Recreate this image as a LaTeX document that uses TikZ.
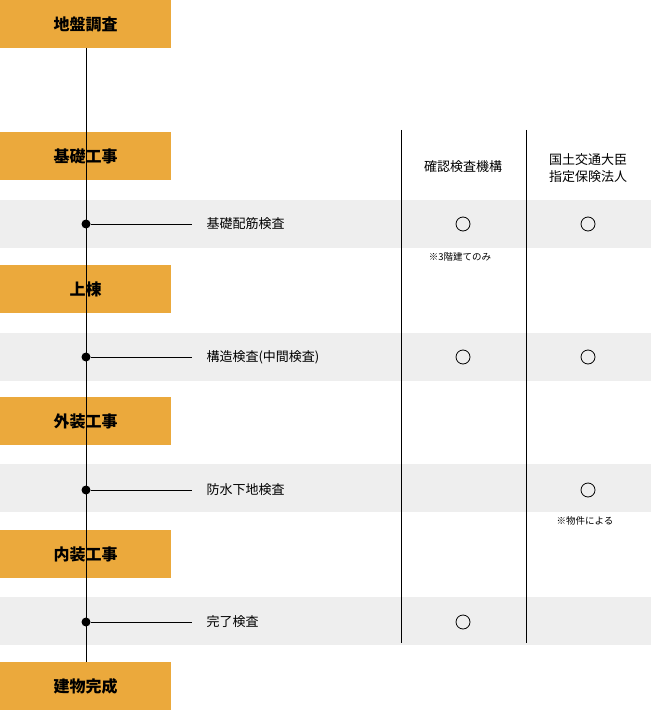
\documentclass[tikz,border=0pt]{standalone}
\usepackage{fontspec}
\setmainfont{Noto Sans CJK JP}
\usetikzlibrary{positioning}
\definecolor{stageorange}{HTML}{EBA93C}
\definecolor{bandgray}{HTML}{EEEEEE}

\begin{document}
\begin{tikzpicture}[x=1pt,y=-1pt,
    stage/.style={fill=stageorange, minimum width=171pt, minimum height=48pt, anchor=north west, inner sep=0pt, font=\fontsize{16}{18}\selectfont\bfseries},
    band/.style={fill=bandgray, draw=none},
    check/.style={circle, draw, thick, minimum size=14pt, inner sep=0pt},
    insp/.style={anchor=west, font=\fontsize{13}{15}\selectfont},
    note/.style={font=\fontsize{9.5}{11}\selectfont},
    dot/.style={circle, fill, inner sep=0pt, minimum size=9pt}]

    \useasboundingbox (0,0) rectangle (651,711);

    % Grey bands for the inspections
    \foreach \y in {200,333,464,597}
        \fill[band] (0,\y) rectangle (651,\y+48);

    % Column lines
    \draw[thick] (401,130) -- (401,643);
    \draw[thick] (526,130) -- (526,643);

    % Stages
    \node[stage] (s1) at (0,0) {地盤調査};
    \node[stage] (s2) at (0,132) {基礎工事};
    \node[stage] (s3) at (0,265) {上棟};
    \node[stage] (s4) at (0,397) {外装工事};
    \node[stage] (s5) at (0,530) {内装工事};
    \node[stage] (s6) at (0,662) {建物完成};
    \draw (s1.south) -- (s6.north);

    % Column headers
    \node[font=\fontsize{13}{16}\selectfont] (hA) at (463,167) {確認検査機構};
    \node[font=\fontsize{13}{17}\selectfont, align=center] (hB) at (588,168) {国土交通大臣\\指定保険法人};

    % Inspections
    \foreach \n/\y/\t in {1/224/基礎配筋検査, 2/357/構造検査(中間検査), 3/490/防水下地検査, 4/622/完了検査} {
        \node[dot] (d\n) at (86,\y) {};
        \coordinate (e\n) at (192,\y);
        \draw (d\n) -- (e\n);
        \node[insp] (i\n) at (203,\y) {\t};
    }

    % Marks
    \node[check] (a1) at (463,224) {};
    \node[check] (b1) at (588,224) {};
    \node[check] (a2) at (463,357) {};
    \node[check] (b2) at (588,357) {};
    \node[check] (b3) at (588,490) {};
    \node[check] (a4) at (463,622) {};

    % Notes
    \node[note] (nA) at (460,257) {※3階建てのみ};
    \node[note] (nB) at (585,521) {※物件による};

\end{tikzpicture}
\end{document}
